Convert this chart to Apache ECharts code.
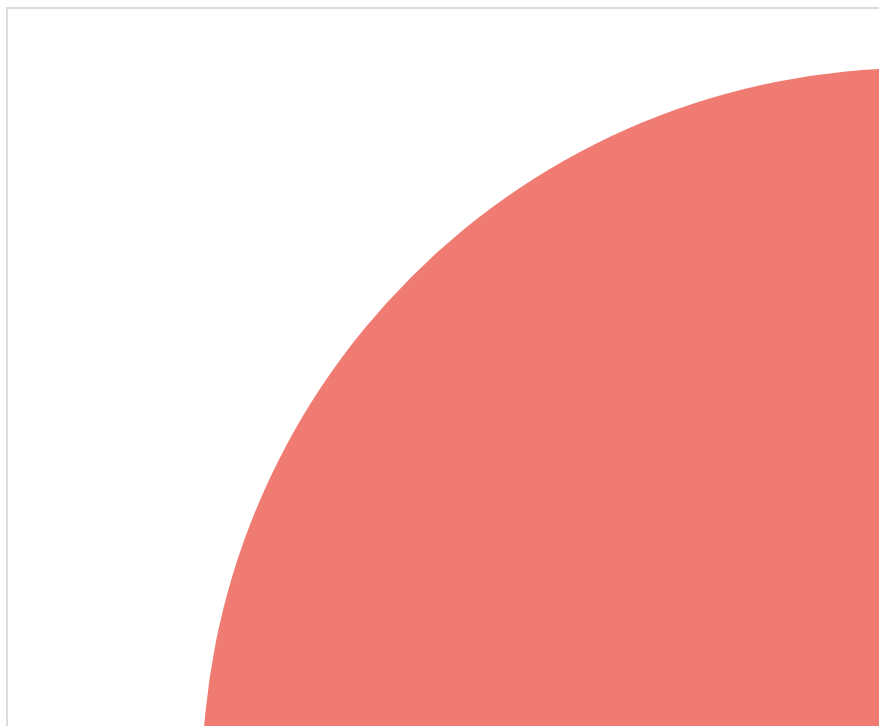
<!DOCTYPE html>
<html>
<head>
<meta charset="utf-8">
<script src="https://cdn.jsdelivr.net/npm/echarts@6/dist/echarts.min.js"></script>
<style>
  html, body { margin: 0; padding: 0; background: #ffffff; overflow: hidden; }
  #chart {
    position: absolute; left: 6px; top: 7px;
    width: 871px; height: 717px;
    border-left: 2px solid #dcdcdc; border-top: 2px solid #dcdcdc;
  }
</style>
</head>
<body>
<div id="chart"></div>
<script>
const categories = ['A'];
const values = [1];
const sliceColors = ['#EF7B72'];

const chart = echarts.init(document.getElementById('chart'), null, { renderer: 'canvas' });
chart.setOption({
  animation: false,
  series: [{
    type: 'pie',
    center: [908, 773],
    radius: [0, 714],
    silent: true,
    label: { show: false },
    labelLine: { show: false },
    itemStyle: { borderWidth: 0 },
    data: categories.map((c, i) => ({ name: c, value: values[i], itemStyle: { color: sliceColors[i] } }))
  }]
});
</script>
</body>
</html>
